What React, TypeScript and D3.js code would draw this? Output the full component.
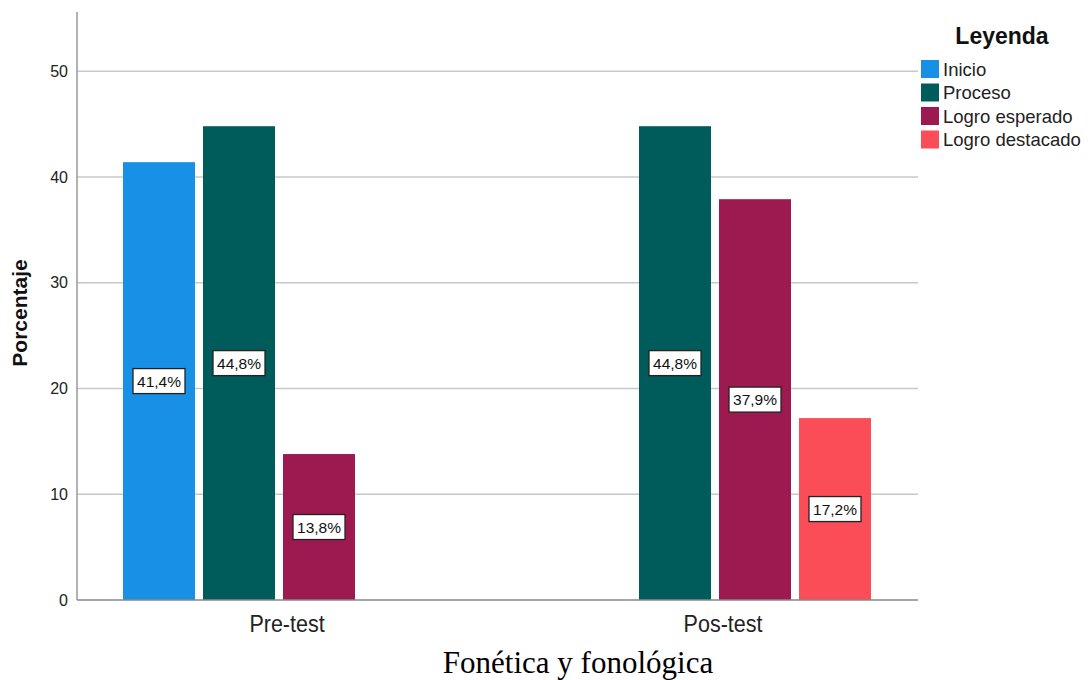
import React from "react";
import * as d3 from "d3";

const categories = ["Pre-test", "Pos-test"];
const seriesNames = ["Inicio", "Proceso", "Logro esperado", "Logro destacado"];
const seriesColors = ["#1790e6", "#005c5a", "#9c1a4f", "#fb4d57"];
const preTest: (number | null)[] = [41.4, 44.8, 13.8, null];
const posTest: (number | null)[] = [null, 44.8, 37.9, 17.2];
const yTicks = [0, 10, 20, 30, 40, 50];

const W = 1090;
const H = 680;

export default function App() {
  const y = d3.scaleLinear().domain([0, 55.6]).range([600, 12]);
  const x = d3.scalePoint<string>().domain(categories).range([279, 715]);
  const inner = d3.scaleBand<string>().domain(seriesNames).range([-156, 156]).paddingInner(0.1).paddingOuter(0);
  const data = [preTest, posTest];
  const plotL = 77;
  const plotR = 918;
  const font = "Arial, 'Liberation Sans', sans-serif";

  return (
    <svg width={W} height={H} style={{ position: "absolute", left: 0, top: 0, background: "#fff" }} fontFamily={font}>
      {yTicks.filter((t) => t > 0).map((t) => (
        <line key={"g" + t} x1={plotL} x2={plotR} y1={y(t)} y2={y(t)} stroke="#c8c8c8" strokeWidth={1.5} />
      ))}
      {yTicks.map((t) => (
        <text key={"t" + t} x={68} y={y(t)} dy="0.36em" textAnchor="end" fontSize={16} fill="#222">{t}</text>
      ))}
      {data.map((vals, ci) =>
        vals.map((v, si) =>
          v === null ? null : (
            <rect
              key={`b${ci}-${si}`}
              x={(x(categories[ci]) as number) + (inner(seriesNames[si]) as number)}
              y={y(v)}
              width={inner.bandwidth()}
              height={y(0) - y(v)}
              fill={seriesColors[si]}
            />
          )
        )
      )}
      <line x1={plotL} x2={plotL} y1={12} y2={600} stroke="#999" strokeWidth={1.5} />
      <line x1={plotL} x2={plotR} y1={600} y2={600} stroke="#888" strokeWidth={1.5} />
      {data.map((vals, ci) =>
        vals.map((v, si) => {
          if (v === null) return null;
          const cx = (x(categories[ci]) as number) + (inner(seriesNames[si]) as number) + inner.bandwidth() / 2;
          const cy = y(v / 2);
          const label = v.toFixed(1).replace(".", ",") + "%";
          return (
            <g key={`l${ci}-${si}`}>
              <rect x={cx - 26} y={cy - 12.5} width={52} height={25} fill="#fff" stroke="#222" strokeWidth={1.3} />
              <text x={cx} y={cy} dy="0.36em" textAnchor="middle" fontSize={15.5} fill="#111">{label}</text>
            </g>
          );
        })
      )}
      {categories.map((c) => (
        <text key={c} transform={`translate(${(x(c) as number) + 8},632) scale(1,1.08)`} textAnchor="middle" fontSize={21.5} fill="#222">{c}</text>
      ))}
      <text transform={`translate(27,313) rotate(-90)`} textAnchor="middle" fontSize={21} fontWeight="bold" fill="#111">Porcentaje</text>
      <text x={578} y={673} textAnchor="middle" fontSize={31} fontFamily="'Liberation Serif', 'Times New Roman', serif" fill="#000">Fonética y fonológica</text>
      <text transform="translate(1002,44) scale(1,1.08)" textAnchor="middle" fontSize={23} fontWeight="bold" fill="#111">Leyenda</text>
      {seriesNames.map((s, i) => (
        <g key={s}>
          <rect x={921} y={60 + i * 23.5} width={18} height={18} fill={seriesColors[i]} />
          <text x={943} y={69 + i * 23.5} dy="0.36em" fontSize={18.5} fill="#222">{s}</text>
        </g>
      ))}
    </svg>
  );
}
